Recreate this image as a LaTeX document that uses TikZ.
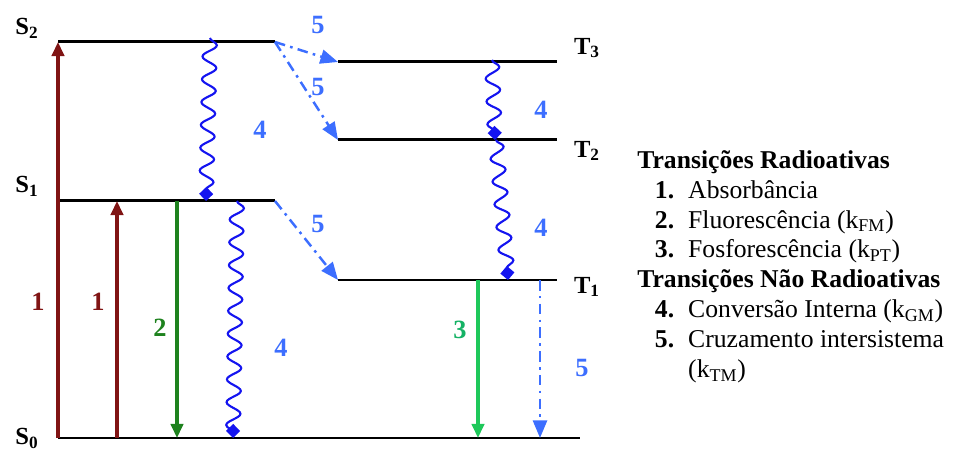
\documentclass[tikz,border=0pt]{standalone}
\usepackage{fontspec}
\setmainfont{Liberation Serif}
\usepackage{tikz}
\usetikzlibrary{decorations.pathmorphing, arrows.meta}
\definecolor{absred}{RGB}{128,20,20}
\definecolor{fluogreen}{RGB}{30,130,30}
\definecolor{phosgreen}{RGB}{30,200,90}
\definecolor{icblue}{RGB}{20,20,240}
\definecolor{iscblue}{RGB}{60,110,255}

\begin{document}
\begin{tikzpicture}[>={Triangle[length=8pt,width=7pt]},
  level/.style={line width=1.7pt},
  statelbl/.style={font=\fontsize{14}{16}\selectfont\bfseries},
  num/.style={font=\fontsize{15}{17}\selectfont\bfseries},
  radiative/.style={->, line width=1.8pt},
  wavy/.style={icblue, line width=1.2pt, -{Diamond[length=8pt,width=8pt]}, decorate,
    decoration={snake, segment length=13pt, amplitude=4pt, post length=2pt}},
  isc/.style={->, iscblue, line width=1.4pt, >={Triangle[length=10pt,width=8pt]},
    dash pattern=on 6pt off 3pt on 1.5pt off 3pt}]
  \useasboundingbox (0,0) rectangle (19.28,9.04);

  % singlet and triplet levels
  \coordinate (S2a) at (1.16,8.2);  \coordinate (S2b) at (5.5,8.2);
  \coordinate (S1a) at (1.16,5.02); \coordinate (S1b) at (5.5,5.02);
  \coordinate (S0a) at (1.16,0.28); \coordinate (S0b) at (11.6,0.28);
  \coordinate (T3a) at (6.76,7.8);  \coordinate (T3b) at (11.14,7.8);
  \coordinate (T2a) at (6.76,6.24); \coordinate (T2b) at (11.14,6.24);
  \coordinate (T1a) at (6.76,3.44); \coordinate (T1b) at (11.14,3.44);
  \draw[level] (S2a) -- (S2b);
  \draw[level] (S1a) -- (S1b);
  \draw[level] (S0a) -- (S0b);
  \draw[level] (T3a) -- (T3b);
  \draw[level] (T2a) -- (T2b);
  \draw[level] (T1a) -- (T1b);
  \node[statelbl] (lS2) at (0.54,8.48) {S\textsubscript{2}};
  \node[statelbl] (lS1) at (0.54,5.32) {S\textsubscript{1}};
  \node[statelbl] (lS0) at (0.54,0.27) {S\textsubscript{0}};
  \node[statelbl] (lT3) at (11.74,8.08) {T\textsubscript{3}};
  \node[statelbl] (lT2) at (11.74,6.02) {T\textsubscript{2}};
  \node[statelbl] (lT1) at (11.74,3.3) {T\textsubscript{1}};

  % transition end points
  \coordinate (ab1) at (2.34,0.28);  \coordinate (ab1e) at (2.34,5.02);
  \coordinate (fl) at (3.54,5.02);   \coordinate (fle) at (3.54,0.28);
  \coordinate (ic1) at (4.2,8.28);   \coordinate (ic1e) at (4.12,5.02);
  \coordinate (ic2) at (4.74,5.02);  \coordinate (ic2e) at (4.66,0.28);
  \coordinate (ic3) at (9.84,7.84);  \coordinate (ic3e) at (9.9,6.24);
  \coordinate (ic4) at (9.92,6.24);  \coordinate (ic4e) at (10.16,3.44);
  \coordinate (ph) at (9.56,3.44);   \coordinate (phe) at (9.56,0.28);
  \coordinate (is4) at (10.8,3.44);  \coordinate (is4e) at (10.8,0.28);

  % radiative
  \draw[radiative, absred] (S0a) -- (S2a);
  \draw[radiative, absred] (ab1) -- (ab1e);
  \draw[radiative, fluogreen] (fl) -- (fle);
  \draw[radiative, phosgreen] (ph) -- (phe);
  % non radiative
  \draw[wavy] (ic1) -- (ic1e);
  \draw[wavy] (ic2) -- (ic2e);
  \draw[wavy] (ic3) -- (ic3e);
  \draw[wavy] (ic4) -- (ic4e);
  \draw[isc] (S2b) -- (T3a);
  \draw[isc] (S2b) -- (T2a);
  \draw[isc] (S1b) -- (T1a);
  \draw[isc] (is4) -- (is4e);

  \node[num, absred] (n1a) at (0.76,3.0) {1};
  \node[num, absred] (n1b) at (1.96,3.0) {1};
  \node[num, fluogreen] (n2) at (3.2,2.48) {2};
  \node[num, phosgreen!70!teal] (n3) at (9.2,2.44) {3};
  \node[num, iscblue] (n4a) at (5.2,6.44) {4};
  \node[num, iscblue] (n4b) at (5.62,2.08) {4};
  \node[num, iscblue] (n4c) at (10.82,6.84) {4};
  \node[num, iscblue] (n4d) at (10.82,4.48) {4};
  \node[num, iscblue] (n5a) at (6.36,8.54) {5};
  \node[num, iscblue] (n5b) at (6.36,7.3) {5};
  \node[num, iscblue] (n5c) at (6.36,4.56) {5};
  \node[num, iscblue] (n5d) at (11.64,1.68) {5};

  % legend
  \node[anchor=north west, inner sep=0pt, font=\fontsize{14.6}{17}\selectfont] (legend) at (12.74,6.1) {%
    \begin{tabular}{@{\hspace{10pt}}r@{\hspace{8pt}}l@{}}
      \multicolumn{2}{@{}l@{}}{\textbf{Transições Radioativas}}\\
      \textbf{1.} & Absorbância\\
      \textbf{2.} & Fluorescência (k\textsubscript{FM})\\
      \textbf{3.} & Fosforescência (k\textsubscript{PT})\\
      \multicolumn{2}{@{}l@{}}{\textbf{Transições Não Radioativas}}\\
      \textbf{4.} & Conversão Interna (k\textsubscript{GM})\\
      \textbf{5.} & Cruzamento intersistema\\
       & (k\textsubscript{TM})
    \end{tabular}};
\end{tikzpicture}
\end{document}
